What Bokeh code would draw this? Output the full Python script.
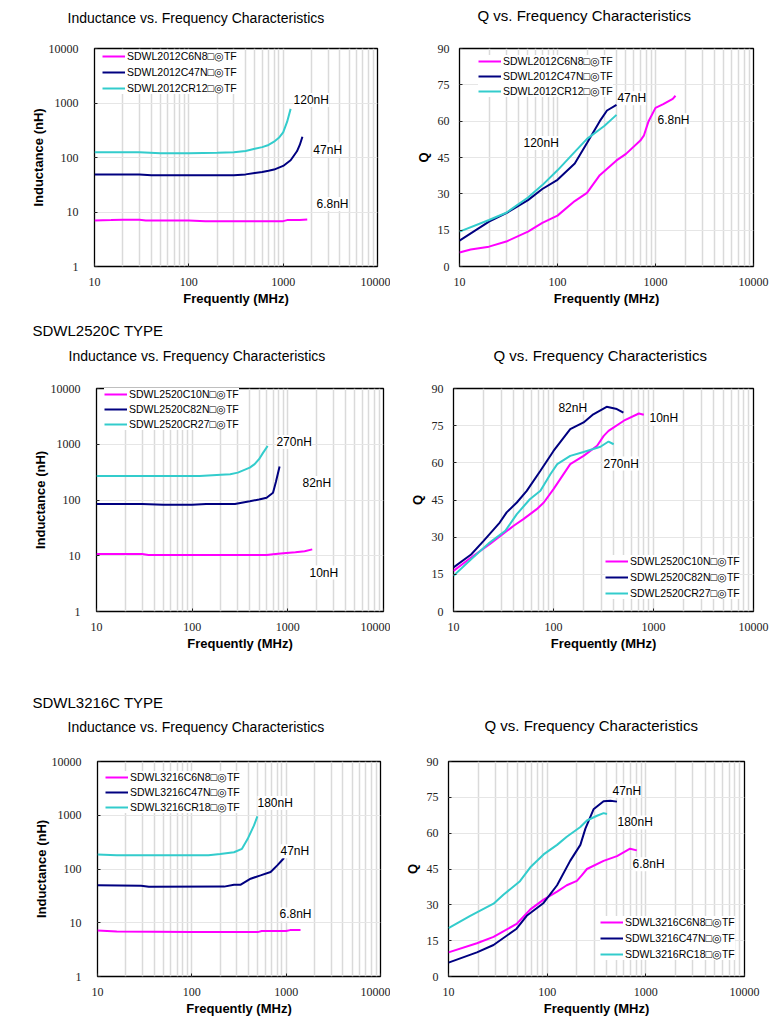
from bokeh.plotting import figure
from bokeh.models import FixedTicker, Legend, LegendItem, Label, Title, NumeralTickFormatter
from bokeh.layouts import column, row
from bokeh.embed import file_html
from bokeh.resources import INLINE

MAG = "#ff00ff"
NAVY = "#000080"
TEAL = "#33cccc"

# ---------------- data ----------------
# SDWL2012C inductance (nH) vs frequency (MHz)
L2012_6N8_f = [10, 15, 20, 30, 35, 50, 100, 150, 200, 500, 1000, 1100, 1500, 1800]
L2012_6N8 = [7.0, 7.1, 7.2, 7.2, 7.0, 7.0, 7.0, 6.8, 6.8, 6.8, 6.8, 7.1, 7.1, 7.3]
L2012_47N_f = [10, 20, 30, 40, 100, 200, 300, 400, 500, 600, 700, 800, 1000, 1200, 1400, 1500, 1600]
L2012_47N = [49, 49, 49, 47, 47, 47, 47, 49, 52, 54, 57, 60, 70, 89, 130, 170, 240]
L2012_R12_f = [10, 20, 30, 50, 100, 200, 300, 400, 500, 600, 700, 800, 900, 1000, 1100, 1200]
L2012_R12 = [125, 125, 125, 120, 120, 122, 125, 132, 145, 155, 170, 195, 230, 290, 450, 780]

# SDWL2012C Q vs frequency
Q2012_6N8_f = [10, 13, 20, 30, 50, 70, 100, 150, 200, 270, 400, 500, 700, 760, 850, 1000, 1200, 1500, 1600]
Q2012_6N8 = [5.8, 7, 8.2, 10.3, 14.4, 18, 21, 27, 30.4, 37.7, 43.8, 46.5, 52, 54, 60, 65.5, 67, 69.2, 70.5]
Q2012_47N_f = [10, 20, 30, 50, 70, 100, 150, 200, 270, 320, 400]
Q2012_47N = [10.7, 18.5, 22, 27.4, 32, 35.8, 42.5, 51, 60, 64.4, 66.7]
Q2012_R12_f = [10, 20, 30, 50, 70, 100, 150, 200, 300, 400]
Q2012_R12 = [14.4, 19.2, 22.2, 28.5, 33.6, 39.7, 47.3, 52.7, 58, 62.6]

# SDWL2520C inductance
L2520_10N_f = [10, 30, 35, 100, 600, 700, 900, 1200, 1500, 1800]
L2520_10N = [10.7, 10.7, 10.3, 10.3, 10.3, 10.6, 11.1, 11.5, 12, 13]
L2520_82N_f = [10, 30, 50, 100, 140, 200, 280, 400, 500, 600, 700, 750, 820]
L2520_82N = [85, 85, 82, 82, 85, 85, 85, 95, 102, 110, 135, 210, 400]
L2520_R27_f = [10, 20, 50, 100, 120, 200, 250, 300, 400, 450, 500, 550, 615]
L2520_R27 = [270, 270, 270, 270, 270, 285, 290, 310, 380, 440, 540, 700, 930]

# SDWL2520C Q
Q2520_10N_f = [10, 15, 23, 40, 50, 68, 80, 100, 147, 200, 273, 318, 355, 505, 714, 800]
Q2520_10N = [16.4, 21.8, 27.2, 34.6, 37.3, 41.3, 44, 49.4, 59.5, 62.8, 66.9, 70.9, 72.9, 77, 79.9, 79.4]
Q2520_82N_f = [10, 15, 20, 29, 34, 43, 54, 74, 100, 147, 200, 250, 340, 430, 500]
Q2520_82N = [17.8, 23, 28.5, 35.9, 40, 44, 48.7, 56.8, 64.8, 73.6, 76.3, 79.6, 82.6, 81.7, 80.3]
Q2520_R27_f = [10, 15, 23, 33, 43, 58, 74, 93, 109, 147, 200, 295, 355, 400]
Q2520_R27 = [14.4, 21.1, 27.8, 32.6, 39.3, 45.3, 48.7, 55.4, 59.5, 62.8, 64.4, 66.5, 68.6, 67.5]

# SDWL3216C inductance
L3216_6N8_f = [10, 16, 100, 500, 550, 1000, 1100, 1420]
L3216_6N8 = [7.2, 6.9, 6.7, 6.7, 7.0, 7.0, 7.3, 7.3]
L3216_47N_f = [10, 29, 35, 220, 280, 330, 420, 535, 684, 805, 950]
L3216_47N = [50, 49, 46.6, 47, 51, 51, 66, 76, 88, 117, 160]
L3216_R18_f = [10, 16, 50, 100, 150, 200, 280, 340, 390, 455, 495]
L3216_R18 = [186, 180, 180, 180, 180, 190, 205, 237, 360, 640, 950]

# SDWL3216C Q
Q3216_6N8_f = [10, 19.4, 28.6, 49, 67.5, 92, 126, 158, 200, 224, 253, 373, 510, 693, 810]
Q3216_6N8 = [10.1, 13.9, 16.6, 22, 28.1, 32.2, 35.5, 38.2, 40, 42.3, 45, 48.4, 50.4, 53.5, 52.8]
Q3216_47N_f = [10, 19.4, 28.6, 49, 62, 92, 126, 171, 217, 244, 295, 373, 437, 510]
Q3216_47N = [5.8, 10.1, 13.2, 20, 25.4, 30.8, 38.2, 48.4, 55.1, 61.9, 70, 73.4, 73.6, 73.2]
Q3216_R18_f = [10, 16.6, 28.6, 36, 53, 67.5, 92, 126, 158, 217, 253, 320, 373, 404]
Q3216_R18 = [20.3, 25.4, 30.5, 34.2, 39.9, 45.7, 51.1, 55.1, 58.5, 62.6, 65.3, 67.3, 68.4, 68]

names_2012 = ["SDWL2012C6N8□◎TF", "SDWL2012C47N□◎TF", "SDWL2012CR12□◎TF"]
names_2520 = ["SDWL2520C10N□◎TF", "SDWL2520C82N□◎TF", "SDWL2520CR27□◎TF"]
names_3216_L = ["SDWL3216C6N8□◎TF", "SDWL3216C47N□◎TF", "SDWL3216CR18□◎TF"]
names_3216_Q = ["SDWL3216C6N8□◎TF", "SDWL3216C47N□◎TF", "SDWL3216RC18□◎TF"]

x_ticks = [10, 100, 1000, 10000]
L_ticks = [1, 10, 100, 1000, 10000]
Q_ticks = [0, 15, 30, 45, 60, 75, 90]

TITLE_L = "Inductance vs. Frequency Characteristics"
TITLE_Q = "Q vs. Frequency Characteristics"
XLAB = "Frequently (MHz)"

SANS = "Liberation Sans"
SERIF = "Liberation Serif"


def panel(kind, w, h, mb, names, series, leg_xy, leg_spacing, labels,
          title, title_size, title_offset, gap, ylab, ystand, ylab_stand,
          type_text=None, type_offset=0, type_standoff=0):
    left, right, top, bottom = mb
    common = dict(width=w, height=h, toolbar_location=None, output_backend="svg",
                  x_axis_type="log", x_range=(10, 10000), title=None,
                  min_border_left=left, min_border_right=right,
                  min_border_top=top, min_border_bottom=bottom)
    if kind == "L":
        p = figure(y_axis_type="log", y_range=(1, 10000), **common)
        yt = FixedTicker(ticks=L_ticks, minor_ticks=[])
    else:
        p = figure(y_range=(0, 90), **common)
        yt = FixedTicker(ticks=Q_ticks, minor_ticks=[])
    minors = [m * d for d in (10, 100, 1000) for m in range(2, 10)]
    xt = FixedTicker(ticks=x_ticks, minor_ticks=minors)
    p.xaxis.ticker = xt
    p.xgrid.ticker = xt
    p.yaxis.ticker = yt
    p.ygrid.ticker = yt
    for ax in (p.xaxis, p.yaxis):
        ax.formatter = NumeralTickFormatter(format="0")
        ax.axis_line_color = None
        ax.major_tick_out = 0
        ax.major_tick_in = 3
        ax.major_tick_line_color = "#222222"
        ax.minor_tick_out = 0
        ax.minor_tick_in = 0
        ax.major_label_text_font = SERIF
        ax.major_label_text_font_size = "12px"
        ax.major_label_text_color = "#222222"
        ax.axis_label_text_font = SANS
        ax.axis_label_text_font_style = "bold"
        ax.axis_label_text_font_size = "13px"
        ax.axis_label_text_color = "#000000"
    p.xaxis.axis_label = XLAB
    p.xaxis.major_label_standoff = 11
    p.xaxis.axis_label_standoff = 2
    p.yaxis.axis_label = ylab
    p.yaxis.major_label_standoff = ystand
    p.yaxis.axis_label_standoff = ylab_stand
    p.xgrid.grid_line_color = "#dadada"
    p.xgrid.grid_line_width = 1.5
    p.xgrid.minor_grid_line_color = "#dadada"
    p.xgrid.minor_grid_line_width = 1.5
    p.ygrid.grid_line_color = "#e6e6e6"
    p.ygrid.grid_line_width = 1
    p.outline_line_color = "#000000"
    p.outline_line_width = 1.3
    p.background_fill_color = "white"
    p.border_fill_color = "white"

    items = []
    for name, (fx, fy), col in zip(names, series, (MAG, NAVY, TEAL)):
        r = p.line(fx, fy, line_color=col, line_width=2)
        items.append(LegendItem(label=name, renderers=[r]))
    leg = Legend(items=items, location=leg_xy, margin=0, padding=2,
                 spacing=leg_spacing, glyph_width=23, glyph_height=12, label_height=12,
                 label_standoff=2, label_text_font=SANS, label_text_font_size="10.5px",
                 label_text_color="#000000", border_line_color=None,
                 background_fill_color="white", background_fill_alpha=1.0)
    p.add_layout(leg)

    for txt, lx, ly in labels:
        p.add_layout(Label(x=lx, y=ly, text=txt, text_align="left", text_baseline="middle",
                           text_font=SANS, text_font_size="12px", text_color="#000000",
                           background_fill_color="white", background_fill_alpha=1.0))

    # spacing between frame and title
    p.add_layout(Title(text=" ", text_font_size="1px", standoff=gap), "above")
    p.add_layout(Title(text=title, align="left", offset=title_offset, text_font=SANS,
                       text_font_size=title_size, text_font_style="normal",
                       text_color="#000000", standoff=0), "above")
    if type_text:
        p.add_layout(Title(text=type_text, align="left", offset=type_offset, text_font=SANS,
                           text_font_size="15px", text_font_style="normal",
                           text_color="#000000", standoff=type_standoff), "above")
    return p


p1 = panel("L", 390, 310, (94, 13, 46, 44), names_2012,
           [(L2012_6N8_f, L2012_6N8), (L2012_47N_f, L2012_47N), (L2012_R12_f, L2012_R12)],
           (8, 172), 4,
           [("120nH", 1290, 1135), ("47nH", 2090, 140), ("6.8nH", 2255, 14)],
           TITLE_L, "14px", -27, 20, "Inductance (nH)", 16, 0)
p2 = panel("Q", 385, 310, (69, 22, 48, 43), names_2012,
           [(Q2012_6N8_f, Q2012_6N8), (Q2012_47N_f, Q2012_47N), (Q2012_R12_f, Q2012_R12)],
           (19, 169), 3,
           [("47nH", 409, 69.5), ("6.8nH", 1048, 60.4), ("120nH", 45, 51)],
           TITLE_Q, "15px", 18, 22, "Q", 10, 4)
p3 = panel("L", 390, 370, (96, 7, 74, 67), names_2520,
           [(L2520_10N_f, L2520_10N), (L2520_82N_f, L2520_82N), (L2520_R27_f, L2520_R27)],
           (8, 181), 3,
           [("270nH", 760, 1096), ("82nH", 1422, 202), ("10nH", 1683, 5.0)],
           TITLE_L, "14px", -28, 22, "Inductance (nH)", 16, 0, "SDWL2520C TYPE", -64, 13)
p4 = panel("Q", 385, 370, (63, 22, 78, 69), names_2520,
           [(Q2520_10N_f, Q2520_10N), (Q2520_82N_f, Q2520_82N), (Q2520_R27_f, Q2520_R27)],
           (152, 12), 4,
           [("82nH", 112, 82.3), ("10nH", 912, 77.9), ("270nH", 316, 59.7)],
           TITLE_Q, "15px", 40, 22, "Q", 10, 4)
p5 = panel("L", 390, 346, (97, 10, 78, 50), names_3216_L,
           [(L3216_6N8_f, L3216_6N8), (L3216_47N_f, L3216_47N), (L3216_R18_f, L3216_R18)],
           (8, 163), 3,
           [("180nH", 497, 1695), ("47nH", 871, 214), ("6.8nH", 849, 14.3)],
           TITLE_L, "14px", -30, 24, "Inductance (nH)", 16, 0, "SDWL3216C TYPE", -65, 11)
p6 = panel("Q", 385, 346, (58, 31, 81, 43), names_3216_Q,
           [(Q3216_6N8_f, Q3216_6N8), (Q3216_47N_f, Q3216_47N), (Q3216_R18_f, Q3216_R18)],
           (152, 16), 4,
           [("47nH", 459, 77.8), ("180nH", 516, 64.5), ("6.8nH", 733, 47)],
           TITLE_Q, "15px", 36, 25, "Q", 10, 4)

layout = column(row(p1, p2), row(p3, p4), row(p5, p6))
open("out.html", "w").write(file_html(layout, INLINE))
